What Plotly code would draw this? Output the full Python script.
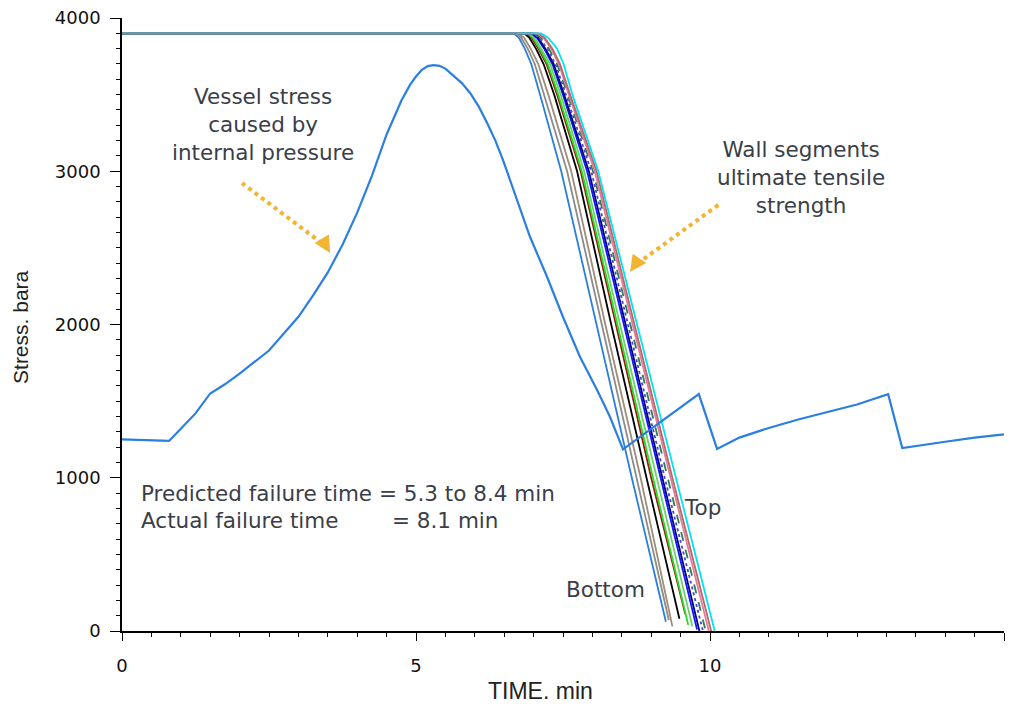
import plotly.graph_objects as go

# Vessel stress caused by internal pressure (time in min, stress in bara)
vessel_time = [0.0, 0.8, 1.0, 1.25, 1.5, 1.75, 2.0, 2.5, 3.0, 3.25, 3.5, 3.75, 4.0, 4.25, 4.5,
               4.75, 4.9, 5.0, 5.1, 5.2, 5.3, 5.4, 5.5, 5.63, 5.78, 5.92, 6.07, 6.21, 6.35,
               6.48, 6.6, 6.72, 6.94, 7.23, 7.5, 7.79, 8.08, 8.3, 8.52,
               9.81, 10.12, 10.5, 11.0, 11.5, 12.0, 12.5, 13.03, 13.27, 14.0, 14.5, 15.0]
vessel_stress = [1250, 1240, 1320, 1420, 1550, 1610, 1680, 1830, 2050, 2190, 2340, 2520, 2730,
                 2970, 3240, 3460, 3565, 3618, 3662, 3686, 3693, 3688, 3670, 3628, 3575, 3511,
                 3420, 3315, 3200, 3073, 2945, 2812, 2571, 2310, 2049, 1788, 1573, 1396, 1185,
                 1546, 1188, 1262, 1325, 1380, 1428, 1478, 1545, 1194, 1235, 1262, 1283]

# Wall segments ultimate tensile strength: time (min) at which each segment reaches the stress levels
uts_levels = [3900, 3870, 3800, 3700, 3500, 3000, 2000, 1000]
segment_names = ["Seg 1", "Seg 2", "Seg 3", "Seg 4", "Seg 5", "Seg 6", "Seg 7",
                 "Seg 8", "Seg 9", "Seg 10", "Seg 11", "Seg 12", "Seg 13", "Seg 14"]
segment_times = [
    [6.66, 6.75, 6.85, 6.96, 7.11, 7.47, 8.07, 8.67],
    [6.70, 6.79, 6.90, 7.02, 7.18, 7.57, 8.16, 8.75],
    [6.74, 6.84, 6.95, 7.08, 7.25, 7.64, 8.22, 8.82],
    [6.84, 6.93, 7.04, 7.17, 7.35, 7.74, 8.32, 8.92],
    [6.88, 6.97, 7.08, 7.22, 7.40, 7.80, 8.40, 9.00],
    [6.90, 6.99, 7.10, 7.24, 7.42, 7.82, 8.42, 9.03],
    [6.93, 7.02, 7.13, 7.28, 7.46, 7.86, 8.47, 9.09],
    [6.96, 7.06, 7.18, 7.32, 7.50, 7.91, 8.53, 9.16],
    [6.98, 7.08, 7.20, 7.34, 7.52, 7.94, 8.56, 9.19],
    [7.00, 7.10, 7.23, 7.37, 7.55, 7.98, 8.60, 9.23],
    [7.03, 7.13, 7.26, 7.40, 7.58, 8.01, 8.64, 9.28],
    [7.06, 7.17, 7.30, 7.43, 7.60, 8.04, 8.68, 9.33],
    [7.08, 7.19, 7.32, 7.45, 7.62, 8.07, 8.71, 9.36],
    [7.13, 7.25, 7.40, 7.51, 7.66, 8.10, 8.76, 9.42],
]
segment_end_time = [9.25, 9.30, 9.36, 9.48, 9.58, 9.63, 9.70, 9.78, 9.82, 9.88, 9.92, 9.98, 10.02, 10.08]
segment_end_stress = [60, 70, 30, 80, 110, 40, 30, 10, 0, 0, 10, 0, 0, 0]
segment_colors = ["#2b7fdc", "#8c8c8c", "#a08c78", "#000000", "#a01818", "#22dd22", "#6ccf6c",
                  "#1414ff", "#00008b", "#4848c8", "#2e7d5a", "#e07ca0", "#b86868", "#00e4f2"]
segment_dash = ["solid"] * 9 + ["dot", "dash", "solid", "solid", "solid"]

x_ticks = [0, 5, 10, 15]
y_ticks = [0, 1000, 2000, 3000, 4000]

TEXT = "rgb(58,62,72)"
GOLD = "#f2b531"
NOTE_SIZE = 21.5

fig = go.Figure()

# the grey segment goes last so its flat plateau sits on top
order = [i for i in range(len(segment_names)) if i != 1] + [1]
for i in order:
    xs = [0.0] + segment_times[i] + [segment_end_time[i]]
    ys = [uts_levels[0]] + uts_levels + [segment_end_stress[i]]
    fig.add_trace(go.Scatter(
        x=xs, y=ys, mode="lines", name=segment_names[i],
        line=dict(color=segment_colors[i], width=1.8, dash=segment_dash[i]),
        hoverinfo="skip", showlegend=False))

fig.add_trace(go.Scatter(
    x=vessel_time, y=vessel_stress, mode="lines", name="Vessel stress",
    line=dict(color="#2a7fe0", width=2.2), showlegend=False))

annotations = []


def label(text, x, y, size=NOTE_SIZE, xanchor="center", align="center"):
    annotations.append(dict(x=x, y=y, xref="x", yref="y", text=text, showarrow=False,
                            xanchor=xanchor, yanchor="middle", align=align,
                            font=dict(family="DejaVu Sans", size=size, color=TEXT)))


label("Vessel stress<br>caused by<br>internal pressure", 2.40, 3308)
label("Wall segments<br>ultimate tensile<br>strength", 11.55, 2956)
label("Predicted failure time = 5.3 to 8.4 min", 0.29, 900, xanchor="left", align="left")
label("Actual failure time", 0.29, 722, xanchor="left", align="left")
label("= 8.1 min", 4.56, 722, xanchor="left", align="left")
label("Top", 9.88, 803)
label("Bottom", 8.23, 268)

# dotted pointer arrows
pointers = [((2.04, 2923), (3.47, 2510)), ((10.14, 2780), (8.72, 2385))]
shapes = []
for (x0, y0), (x1, y1) in pointers:
    shapes.append(dict(type="line", x0=x0, y0=y0, x1=x1, y1=y1, xref="x", yref="y",
                       line=dict(color=GOLD, width=4, dash="dot")))
annotations.append(dict(x=3.54, y=2467, ax=3.42, ay=2545, xref="x", yref="y", axref="x", ayref="y",
                        text="", showarrow=True, arrowhead=2, arrowsize=1.1, arrowwidth=3,
                        arrowcolor=GOLD, standoff=0))
annotations.append(dict(x=8.64, y=2343, ax=8.78, ay=2420, xref="x", yref="y", axref="x", ayref="y",
                        text="", showarrow=True, arrowhead=2, arrowsize=1.1, arrowwidth=3,
                        arrowcolor=GOLD, standoff=0))

# axis titles
annotations.append(dict(x=7.11, y=-0.098, xref="x", yref="paper", text="TIME. min", showarrow=False,
                        yanchor="middle", font=dict(family="Liberation Sans", size=23, color="#222")))
annotations.append(dict(x=-0.1145, y=0.496, xref="paper", yref="paper", text="Stress. bara",
                        showarrow=False, textangle=-90, xanchor="center", yanchor="middle",
                        font=dict(family="Liberation Sans", size=21, color="#222")))

fig.update_layout(
    width=1011, height=709,
    margin=dict(l=122, r=7, t=18, b=78),
    paper_bgcolor="white", plot_bgcolor="white",
    annotations=annotations, shapes=shapes,
    showlegend=False,
)
fig.update_xaxes(range=[0, 15], tickvals=x_ticks, ticktext=[str(v) for v in x_ticks],
                 showgrid=False, zeroline=False, showline=True, linecolor="black", linewidth=1.5,
                 ticks="outside", ticklen=8, tickcolor="black", tickwidth=1.2,
                 ticklabelstandoff=10,
                 minor=dict(dtick=0.5, ticks="outside", ticklen=4, tickcolor="black", showgrid=False),
                 tickfont=dict(family="DejaVu Sans", size=18, color="#111"))
fig.update_yaxes(range=[0, 4000], tickvals=y_ticks, ticktext=[str(v) for v in y_ticks],
                 showgrid=False, zeroline=False, showline=True, linecolor="black", linewidth=1.5,
                 ticks="outside", ticklen=10, tickcolor="black", tickwidth=1.2,
                 ticklabelstandoff=6,
                 minor=dict(dtick=100, ticks="outside", ticklen=4, tickcolor="black", showgrid=False),
                 tickfont=dict(family="DejaVu Sans", size=18, color="#111"))

fig.write_html("out.html")
